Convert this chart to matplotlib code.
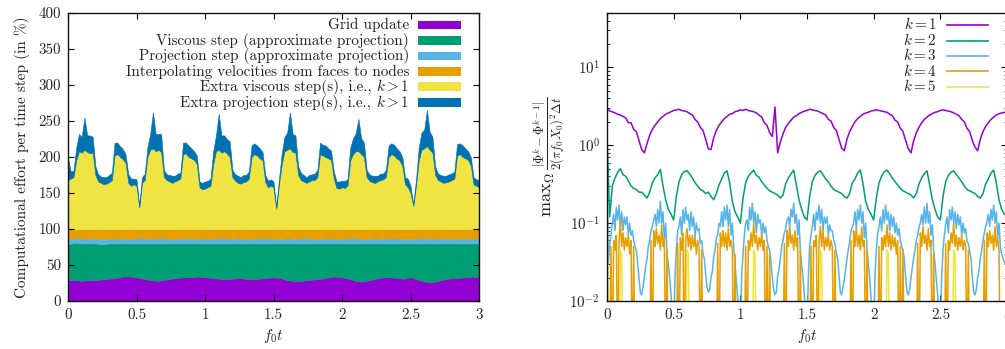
import numpy as np
import matplotlib
matplotlib.use("Agg")
import matplotlib.pyplot as plt
from matplotlib.patches import Rectangle
from matplotlib.lines import Line2D
from matplotlib.ticker import FuncFormatter, LogLocator, NullFormatter

# ---------------- data: left panel (percent of one time step) ----------------
# base layers sampled every 0.05 in f0 t
t_base = np.linspace(0, 3, 61)
grid_update = [29,29,28,29,29,30,31,32,34,34,33,31,29,28,29,31,32,33,33,34,33,32,31,30,31,
               32,31,30,31,32,33,32,29,28,28,29,30,31,33,34,33,31,28,27,29,31,33,33,32,31,
               33,30,27,26,28,30,32,32,33,34,33]
viscous_step = [50,52,52,51,51,49,49,48,46,46,47,49,51,52,51,49,48,47,47,46,47,48,49,50,49,
                48,49,50,49,48,47,48,51,52,52,51,50,49,47,46,47,49,52,53,51,49,47,47,48,49,
                47,50,53,54,52,50,48,48,47,46,47]
projection_step = [7,6,7,6,7,7,6,7,6,6,7,7,6,7,7,6,6,7,6,6,7,6,7,7,6,7,6,6,7,7,
                   6,6,7,6,7,7,6,6,7,6,6,7,7,6,6,7,6,7,7,6,6,7,7,6,7,6,6,7,6,7,6]
interpolation = [14,13,13,14,13,14,14,13,14,14,13,13,14,13,13,14,14,13,14,14,13,14,13,13,14,
                 13,14,14,13,13,14,14,13,14,13,13,14,14,13,14,14,13,13,14,14,13,14,13,13,14,
                 14,13,13,14,13,14,14,13,14,13,14]

# extra (k > 1) layers sampled every 0.02 in f0 t
t_top = np.linspace(0, 3, 151)
extra_viscous = [68,70,72,95,108,106,110,107,105,106,75,66,64,62,63,65,68,102,104,100,97,92,64,60,62,
                 60,30,64,68,100,110,112,108,110,107,72,68,66,64,66,68,70,104,105,100,98,96,90,58,55,
                 56,58,60,90,108,110,106,108,105,100,72,67,64,63,65,66,70,100,104,102,98,95,65,58,60,
                 58,28,62,90,108,110,112,107,106,75,68,66,64,66,68,68,72,104,102,100,98,96,70,57,56,
                 58,57,60,95,104,108,108,104,100,72,67,65,64,66,68,69,72,100,104,102,98,95,88,62,58,
                 50,32,60,95,110,112,115,110,106,75,68,66,64,65,66,68,70,102,104,100,98,96,88,62,60,58]
extra_projection = [30,10,9,18,24,22,45,23,25,22,12,10,9,10,9,10,10,18,16,15,14,12,12,10,8,
                    9,2,8,9,14,22,50,24,22,25,10,8,9,10,8,9,8,16,15,16,14,12,12,8,9,
                    10,9,10,18,22,50,24,22,20,22,10,9,10,9,10,9,10,16,15,14,14,12,10,9,9,
                    8,2,8,15,20,24,50,25,24,12,10,9,8,9,8,9,10,16,15,16,14,13,10,9,10,
                    9,10,9,18,22,25,45,22,20,10,9,9,10,8,9,8,10,16,15,15,14,13,12,10,12,
                    10,2,8,18,24,26,50,25,22,12,9,9,10,9,10,9,10,16,15,16,14,12,12,10,9,10]

# key texts: (plain part, math part)
left_labels = [("Grid update", ""),
               ("Viscous step (approximate projection)", ""),
               ("Projection step (approximate projection)", ""),
               ("Interpolating velocities from faces to nodes", ""),
               ("Extra viscous step(s), i.e.,", r"$k > 1$"),
               ("Extra projection step(s), i.e.,", r"$k > 1$")]

# ---------------- data: right panel ----------------
lo = 1e-3  # below the plotted range
t_k12 = np.linspace(0, 3, 151)
k1 = [3.0,2.75,2.7,2.6,2.5,2.45,2.35,2.25,1.95,1.95,1.6,1.5,1.15,0.88,0.8,1.05,1.35,1.6,1.8,2.0,2.2,2.35,2.5,2.6,2.7,
      2.8,2.85,2.9,2.8,2.75,2.7,2.55,2.45,2.15,2.0,1.7,1.55,1.2,0.9,0.88,1.25,1.55,1.8,2.0,2.2,2.35,2.5,2.55,2.7,2.75,
      2.85,2.8,2.9,2.8,2.75,2.7,2.6,2.45,2.3,1.95,1.8,1.45,1.3,3.1,0.8,1.1,1.4,1.7,1.9,2.1,2.3,2.4,2.55,2.65,2.75,
      2.8,2.9,2.85,2.8,2.75,2.65,2.55,2.45,2.15,2.05,1.7,1.55,1.2,0.92,0.85,1.2,1.5,1.75,2.0,2.2,2.35,2.5,2.6,2.65,2.75,
      2.8,2.85,2.8,2.75,2.7,2.65,2.5,2.4,2.1,2.0,1.65,1.5,1.15,0.9,0.8,1.15,1.45,1.7,1.95,2.15,2.3,2.45,2.55,2.65,2.7,
      2.8,2.85,2.8,2.75,2.7,2.6,2.5,2.4,2.15,2.0,1.65,1.5,1.15,0.95,0.85,1.2,1.5,1.75,1.95,2.15,2.3,2.45,2.55,2.6,2.65,2.7]
k2 = [1.3,0.12,0.3,0.38,0.45,0.5,0.42,0.4,0.35,0.3,0.28,0.27,0.25,0.25,0.23,0.21,0.25,0.33,0.38,0.42,0.49,0.3,0.2,0.15,0.13,
      0.11,0.22,0.34,0.42,0.46,0.47,0.43,0.38,0.33,0.3,0.27,0.26,0.24,0.25,0.22,0.2,0.24,0.31,0.37,0.44,0.47,0.33,0.19,0.14,0.12,
      0.1,0.21,0.33,0.4,0.44,0.48,0.41,0.39,0.34,0.31,0.28,0.26,0.25,0.24,0.23,0.21,0.23,0.32,0.38,0.43,0.48,0.31,0.2,0.15,0.12,
      0.11,0.22,0.34,0.41,0.45,0.47,0.42,0.37,0.34,0.3,0.27,0.26,0.25,0.24,0.22,0.21,0.24,0.33,0.37,0.44,0.48,0.32,0.19,0.15,0.13,
      0.11,0.21,0.33,0.4,0.46,0.48,0.43,0.38,0.34,0.31,0.28,0.26,0.25,0.24,0.23,0.21,0.24,0.32,0.38,0.43,0.47,0.31,0.2,0.15,0.12,
      0.11,0.22,0.34,0.41,0.45,0.47,0.42,0.38,0.34,0.3,0.27,0.26,0.25,0.24,0.22,0.21,0.24,0.32,0.37,0.44,0.48,0.33,0.2,0.15,0.13,0.13]

t_k345 = np.linspace(0, 3, 301)
k3 = [0.58,0.03,0.05,0.07,0.1,0.13,0.08,0.16,0.11,0.17,0.09,0.14,0.08,0.12,0.095,0.12,0.07,0.1,0.07,0.08,0.06,0.05,0.045,0.03,0.02,
      0.013,0.012,0.015,0.02,0.028,0.035,0.05,0.06,0.08,0.09,0.11,0.13,0.09,0.15,0.1,0.19,0.1,0.14,0.06,0.1,0.04,0.03,0.02,0.012,0.006,
      0.004,0.02,0.045,0.08,0.09,0.12,0.07,0.15,0.1,0.16,0.11,0.13,0.08,0.14,0.09,0.12,0.065,0.1,0.08,0.085,0.055,0.06,0.04,0.035,0.022,
      0.015,0.013,0.014,0.02,0.024,0.036,0.045,0.065,0.07,0.1,0.09,0.14,0.09,0.16,0.11,0.17,0.09,0.15,0.07,0.1,0.05,0.03,0.018,0.011,0.006,
      0.004,0.022,0.04,0.07,0.1,0.11,0.08,0.16,0.11,0.18,0.1,0.14,0.075,0.13,0.1,0.11,0.07,0.1,0.075,0.09,0.06,0.05,0.045,0.032,0.02,
      0.014,0.012,0.013,0.021,0.026,0.034,0.05,0.06,0.075,0.085,0.11,0.12,0.09,0.15,0.12,0.18,0.1,0.13,0.07,0.11,0.045,0.028,0.02,0.012,0.005,
      0.004,0.02,0.05,0.07,0.09,0.13,0.08,0.14,0.11,0.17,0.1,0.15,0.08,0.12,0.1,0.12,0.07,0.095,0.08,0.08,0.06,0.055,0.04,0.035,0.021,
      0.013,0.012,0.015,0.019,0.025,0.036,0.046,0.058,0.08,0.09,0.1,0.14,0.085,0.15,0.11,0.17,0.1,0.14,0.065,0.1,0.046,0.03,0.02,0.011,0.005,
      0.004,0.021,0.045,0.075,0.09,0.12,0.08,0.15,0.1,0.17,0.11,0.14,0.08,0.13,0.09,0.12,0.075,0.1,0.07,0.085,0.06,0.05,0.045,0.034,0.02,
      0.013,0.012,0.014,0.02,0.027,0.035,0.045,0.06,0.07,0.09,0.1,0.13,0.095,0.16,0.1,0.18,0.1,0.14,0.07,0.095,0.045,0.03,0.019,0.012,0.005,
      0.004,0.02,0.046,0.07,0.095,0.12,0.075,0.15,0.11,0.16,0.1,0.14,0.085,0.13,0.095,0.12,0.07,0.1,0.075,0.085,0.058,0.055,0.044,0.035,0.02,
      0.013,0.012,0.014,0.02,0.025,0.035,0.045,0.06,0.075,0.09,0.105,0.13,0.09,0.15,0.11,0.17,0.1,0.14,0.065,0.1,0.05,0.04,0.035,0.032,0.03,
      0.03]
k4 = [0.27,lo,lo,0.05,lo,0.06,0.045,0.07,lo,0.055,0.11,0.05,0.075,0.045,0.065,0.05,0.07,0.04,0.06,lo,0.05,lo,lo,lo,lo,
      lo,lo,lo,lo,lo,lo,lo,lo,0.06,lo,0.08,0.05,0.085,0.055,0.07,0.045,0.095,0.05,0.065,lo,0.045,lo,lo,lo,lo,
      lo,lo,lo,0.055,lo,0.065,0.045,0.075,lo,0.06,0.085,0.05,0.07,0.045,0.07,0.05,0.065,0.04,0.06,0.05,lo,0.045,lo,lo,lo,
      lo,lo,lo,lo,lo,lo,lo,lo,0.055,lo,0.075,0.05,0.08,0.05,0.075,0.045,0.085,0.05,0.06,0.045,lo,0.04,lo,lo,lo,
      lo,lo,lo,lo,0.05,lo,0.06,0.045,0.075,0.05,0.1,0.055,0.07,0.045,0.065,0.05,0.075,0.045,0.06,lo,0.05,lo,0.04,lo,lo,
      lo,lo,lo,lo,lo,lo,lo,lo,0.055,lo,0.08,0.05,0.09,0.055,0.07,0.045,0.08,0.05,0.065,lo,0.045,lo,lo,lo,lo,
      lo,lo,lo,0.05,lo,0.06,0.05,0.07,lo,0.055,0.09,0.05,0.08,0.045,0.065,0.05,0.07,0.045,0.06,0.05,lo,0.045,lo,lo,lo,
      lo,lo,lo,lo,lo,lo,lo,lo,0.06,lo,0.08,0.05,0.085,0.05,0.07,0.045,0.09,0.05,0.06,lo,0.045,lo,lo,lo,lo,
      lo,lo,lo,lo,0.05,lo,0.065,0.045,0.07,0.05,0.095,0.05,0.075,0.045,0.07,0.05,0.065,0.04,0.06,lo,0.05,lo,0.045,lo,lo,
      lo,lo,lo,lo,lo,lo,lo,lo,0.055,lo,0.075,0.05,0.09,0.055,0.07,0.045,0.085,0.05,0.06,lo,0.04,lo,lo,lo,lo,
      lo,lo,lo,lo,0.055,lo,0.06,0.045,0.075,0.055,0.1,0.05,0.07,0.045,0.065,0.05,0.07,0.045,0.06,0.05,lo,0.045,lo,lo,lo,
      lo,lo,lo,lo,lo,lo,lo,lo,0.06,lo,0.075,0.05,0.08,0.055,0.07,0.045,0.09,0.05,0.065,0.045,lo,lo,lo,lo,lo,
      lo]
k5 = [0.25,lo,lo,lo,lo,lo,lo,lo,lo,lo,0.045,0.04,lo,lo,lo,lo,lo,lo,lo,lo,lo,lo,lo,lo,lo,
      lo,lo,lo,lo,lo,lo,lo,lo,lo,lo,lo,lo,lo,lo,lo,lo,lo,lo,lo,lo,lo,lo,lo,lo,lo,
      lo,lo,lo,lo,lo,lo,lo,lo,lo,lo,0.045,0.04,lo,lo,lo,lo,lo,lo,lo,lo,lo,lo,lo,lo,lo,
      lo,lo,lo,lo,lo,lo,lo,lo,lo,lo,lo,lo,lo,lo,lo,lo,lo,lo,lo,lo,lo,lo,lo,lo,lo,
      lo,lo,lo,lo,lo,lo,lo,lo,lo,lo,0.045,0.04,lo,lo,lo,lo,lo,lo,lo,lo,lo,lo,lo,lo,lo,
      lo,lo,lo,lo,lo,lo,lo,lo,lo,lo,lo,lo,lo,lo,lo,lo,lo,lo,lo,lo,lo,lo,lo,lo,lo,
      lo,lo,lo,lo,lo,lo,lo,lo,lo,lo,0.045,0.04,lo,lo,lo,lo,lo,lo,lo,lo,lo,lo,lo,lo,lo,
      lo,lo,lo,lo,lo,lo,lo,lo,lo,lo,lo,lo,lo,lo,lo,lo,lo,lo,lo,lo,lo,lo,lo,lo,lo,
      lo,lo,lo,lo,lo,lo,lo,lo,lo,lo,0.045,0.04,lo,lo,lo,lo,lo,lo,lo,lo,lo,lo,lo,lo,lo,
      lo,lo,lo,lo,lo,lo,lo,lo,lo,lo,lo,lo,lo,lo,lo,lo,lo,lo,lo,lo,lo,lo,lo,lo,lo,
      lo,lo,lo,lo,lo,lo,lo,lo,lo,lo,0.045,0.04,lo,lo,lo,lo,lo,lo,lo,lo,lo,lo,lo,lo,lo,
      lo,lo,lo,lo,lo,lo,lo,lo,lo,lo,lo,lo,lo,lo,lo,lo,lo,lo,lo,lo,lo,lo,lo,lo,lo,
      lo]
right_labels = [r"$k = 1$", r"$k = 2$", r"$k = 3$", r"$k = 4$", r"$k = 5$"]

# ---------------- style ----------------
plt.rcParams.update({
    "font.family": "serif",
    "font.serif": ["cmr10"],
    "mathtext.fontset": "cm",
    "axes.formatter.use_mathtext": True,
    "font.size": 10.8,
    "axes.unicode_minus": False,
})
colors = ["#9400D3", "#009E73", "#56B4E9", "#E69F00", "#F0E442", "#0072B2"]
txt = "#222222"
leg_fs = 10.9

W, H = 1005, 349
AX_TOP, AX_H = 13, 288
fig = plt.figure(figsize=(W / 100, H / 100), dpi=100)
ax1 = fig.add_axes([68 / W, 48 / H, 411 / W, AX_H / H])
ax2 = fig.add_axes([607 / W, 48 / H, 400 / W, AX_H / H])

fmt = FuncFormatter(lambda v, p: "%g" % v)

# ---- left: stacked areas ----
base_layers = [grid_update, viscous_step, projection_step, interpolation]
lower = np.zeros(len(t_base))
for vals, c in zip(base_layers, colors[:4]):
    upper = lower + np.asarray(vals, float)
    ax1.fill_between(t_base, lower, upper, facecolor=c, edgecolor=c, lw=0.4)
    lower = upper
base_total = np.interp(t_top, t_base, lower)
ev_top = base_total + np.asarray(extra_viscous, float)
ax1.fill_between(t_top, base_total, ev_top, facecolor=colors[4], edgecolor=colors[4], lw=0.4)
ep_top = ev_top + np.asarray(extra_projection, float)
ax1.fill_between(t_top, ev_top, ep_top, facecolor=colors[5], edgecolor=colors[5], lw=0.4)

ax1.set_xlim(0, 3)
ax1.set_ylim(0, 400)
ax1.set_xticks(np.arange(0, 3.01, 0.5))
ax1.set_yticks(np.arange(0, 401, 50))
ax1.xaxis.set_major_formatter(fmt)
ax1.yaxis.set_major_formatter(fmt)
ax1.set_xlabel(r"$f_0t$", color=txt, labelpad=4, fontsize=11)
ax1.set_ylabel("Computational effort per time step (in %)", color=txt, labelpad=6, fontsize=11)

# gnuplot-style key: right-aligned text, sample to its right (rows 15.45 px apart)
def row_baseline(i):
    return 1 - (29.3 + 15.45 * i - AX_TOP) / AX_H

renderer = fig.canvas.get_renderer()
for i, ((plain, math), c) in enumerate(zip(left_labels, colors)):
    yb = row_baseline(i)
    x_right = (409 - 68) / 411
    if math:
        tm = ax1.text(x_right, yb, math, transform=ax1.transAxes, ha="right", va="baseline",
                      fontsize=leg_fs, color=txt)
        x0_px = tm.get_window_extent(renderer).x0 - 4.5
        x_right = ax1.transAxes.inverted().transform((x0_px, 0))[0]
    ax1.text(x_right, yb, plain, transform=ax1.transAxes, ha="right", va="baseline",
             fontsize=leg_fs, color=txt)
    ax1.add_patch(Rectangle(((418 - 68) / 411, yb), 43 / 411, 8.7 / AX_H,
                            transform=ax1.transAxes, facecolor=c, edgecolor="none", zorder=5))

# ---- right: log lines ----
for tt, vals, c in zip([t_k12, t_k12, t_k345, t_k345, t_k345], [k1, k2, k3, k4, k5], colors[:5]):
    ax2.plot(tt, vals, color=c, lw=1.1)
ax2.set_yscale("log")
ax2.set_xlim(0, 3)
ax2.set_ylim(1e-2, 50)
ax2.set_xticks(np.arange(0, 3.01, 0.5))
ax2.xaxis.set_major_formatter(fmt)
ax2.yaxis.set_major_locator(LogLocator(base=10, numticks=10))
ax2.yaxis.set_minor_locator(LogLocator(base=10, subs=np.arange(2, 10), numticks=10))
ax2.yaxis.set_minor_formatter(NullFormatter())
ax2.set_xlabel(r"$f_0t$", color=txt, labelpad=4, fontsize=11)
ax2.set_ylabel(r"$\mathrm{max}_{\Omega}\,\frac{\left|\Phi^{k}-\Phi^{k-1}\right|}{2(\pi f_0 X_0)^2\Delta t}$",
               color=txt, labelpad=2, fontsize=13)

for i, (lab, c) in enumerate(zip(right_labels, colors[:5])):
    yb = row_baseline(i)
    ax2.text((937 - 607) / 400, yb, lab, transform=ax2.transAxes, ha="right", va="baseline",
             fontsize=leg_fs, color=txt)
    yl = yb + 4.2 / AX_H
    ax2.add_line(Line2D([(947 - 607) / 400, (988 - 607) / 400], [yl, yl], transform=ax2.transAxes,
                        color=c, lw=1.2, zorder=5))

for ax in (ax1, ax2):
    ax.tick_params(which="major", direction="in", length=4, width=0.8, top=True, right=True,
                   labelsize=10.8, labelcolor=txt, pad=5)
    ax.tick_params(which="minor", direction="in", length=2.5, width=0.6, top=False, right=True)
    for s in ax.spines.values():
        s.set_linewidth(1.0)
        s.set_color("#111111")

fig.savefig("out.png", dpi=100)
